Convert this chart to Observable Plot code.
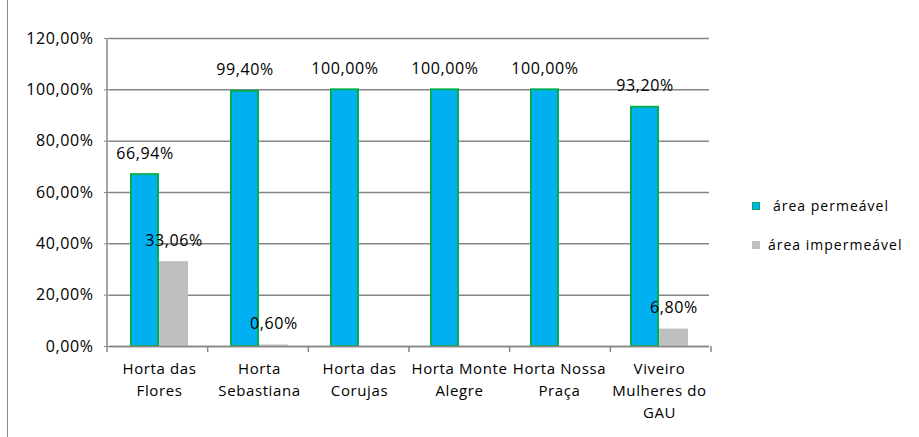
<!DOCTYPE html>
<html>
<head>
<meta charset="utf-8">
<script src="https://cdn.jsdelivr.net/npm/d3@7"></script>
<script src="https://cdn.jsdelivr.net/npm/@observablehq/plot@0.6"></script>
<style>
  html, body { margin: 0; padding: 0; background: #fff; }
  #wrap { position: relative; width: 919px; height: 437px; overflow: hidden; }
  #border { position: absolute; left: 7px; top: 0; width: 0; height: 437px; border-left: 1.5px solid #8c8c8c; }
  .leg { position: absolute; left: 752px; font-family: "Open Sans", sans-serif; font-size: 14px; letter-spacing: 1px; color: #000; white-space: nowrap; }
  .sw { position: absolute; left: 0; top: 0; width: 8px; height: 8px; box-sizing: border-box; }
  .leg span.t { position: absolute; top: -6px; }
</style>
</head>
<body>
<div id="wrap">
  <div id="border"></div>
</div>
<script>
const categories = ["Horta das Flores", "Horta Sebastiana", "Horta das Corujas", "Horta Monte Alegre", "Horta Nossa Praça", "Viveiro Mulheres do GAU"];
const categoryLabels = ["Horta das\nFlores", "Horta\nSebastiana", "Horta das\nCorujas", "Horta Monte\nAlegre", "Horta Nossa\nPraça", "Viveiro\nMulheres do\nGAU"];
const seriesNames = ["área permeável", "área impermeável"];
const permeavel = [66.94, 99.40, 100.00, 100.00, 100.00, 93.20];
const impermeavel = [33.06, 0.60, 0, 0, 0, 6.80];
const yTicks = [0, 20, 40, 60, 80, 100, 120];
const colors = ["#00B0F0", "#BFBFBF"];
const strokes = ["#00B050", "none"];

const data = [];
categories.forEach((c, i) => {
  data.push({cat: c, series: seriesNames[0], value: permeavel[i]});
  data.push({cat: c, series: seriesNames[1], value: impermeavel[i]});
});
const labelled = data.filter(d => d.value > 0);
const fmt = v => d3.format(".2f")(v).replace(".", ",") + "%";
const labelOf = new Map(categories.map((c, i) => [c, categoryLabels[i]]));

const plot = Plot.plot({
  width: 919,
  height: 437,
  marginLeft: 107,
  marginRight: 208,
  marginTop: 38,
  marginBottom: 91,
  style: {fontFamily: "'Open Sans', sans-serif", fontSize: "15px", letterSpacing: "0.6px", color: "#000", background: "transparent"},
  fx: {domain: categories, padding: 0, label: null},
  x: {domain: seriesNames, paddingInner: 0, paddingOuter: 0.7, axis: null},
  y: {domain: [0, 120], ticks: yTicks, label: null},
  color: {domain: seriesNames, range: colors},
  marks: [
    Plot.gridY(yTicks, {stroke: "#868686", strokeOpacity: 1, strokeWidth: 1.5}),
    Plot.barY(data.filter(d => d.series === seriesNames[0]), {fx: "cat", x: "series", y: "value", fill: colors[0], stroke: strokes[0], strokeWidth: 2, insetLeft: 1, insetRight: 1}),
    Plot.barY(data.filter(d => d.series === seriesNames[1] && d.value > 0), {fx: "cat", x: "series", y: "value", fill: colors[1]}),
    Plot.ruleY([0], {stroke: "#868686", strokeWidth: 1.5}),
    Plot.text(labelled, {fx: "cat", x: "series", y: "value", text: d => fmt(d.value), dy: -21, fill: "#000", fontSize: 16}),
    Plot.axisY({ticks: yTicks, tickSize: 5, tickPadding: 11, stroke: "#868686", tickFormat: v => fmt(v), fontSize: 16, anchor: "left"}),
    Plot.axisFx({tickSize: 0, tickPadding: 12, tickFormat: c => labelOf.get(c), lineHeight: 1.47, fontSize: 15, label: null, anchor: "bottom"})
  ]
});

// y axis line and band-boundary ticks, positioned with the plot's own scales
const svg = d3.select(plot);
const fxs = plot.scale("fx");
const ys = plot.scale("y");
const fxScale = d3.scaleBand().domain(fxs.domain).range(fxs.range).paddingInner(0).paddingOuter(0);
const y0 = ys.apply(0), yTop = ys.apply(120);
const left = fxScale(categories[0]);
const bounds = categories.map(c => fxScale(c)).concat([fxScale(categories[categories.length - 1]) + fxScale.bandwidth()]);
const g = svg.append("g").attr("stroke", "#868686").attr("stroke-width", 1.5);
g.append("line").attr("x1", left).attr("x2", left).attr("y1", yTop).attr("y2", y0);
bounds.forEach(b => g.append("line").attr("x1", b).attr("x2", b).attr("y1", y0).attr("y2", y0 + 6));

const wrap = document.getElementById("wrap");
wrap.appendChild(plot);
plot.style.position = "absolute";
plot.style.left = "0";
plot.style.top = "0";

// legend
const legTops = [202, 241];
const textLefts = [21, 16];
seriesNames.forEach((s, i) => {
  const d = document.createElement("div");
  d.className = "leg";
  d.style.top = legTops[i] + "px";
  const sw = document.createElement("div");
  sw.className = "sw";
  sw.style.background = colors[i];
  if (strokes[i] !== "none") sw.style.border = "1.5px solid " + strokes[i];
  const t = document.createElement("span");
  t.className = "t";
  t.style.left = textLefts[i] + "px";
  t.textContent = s;
  d.appendChild(sw);
  d.appendChild(t);
  wrap.appendChild(d);
});
</script>
</body>
</html>
